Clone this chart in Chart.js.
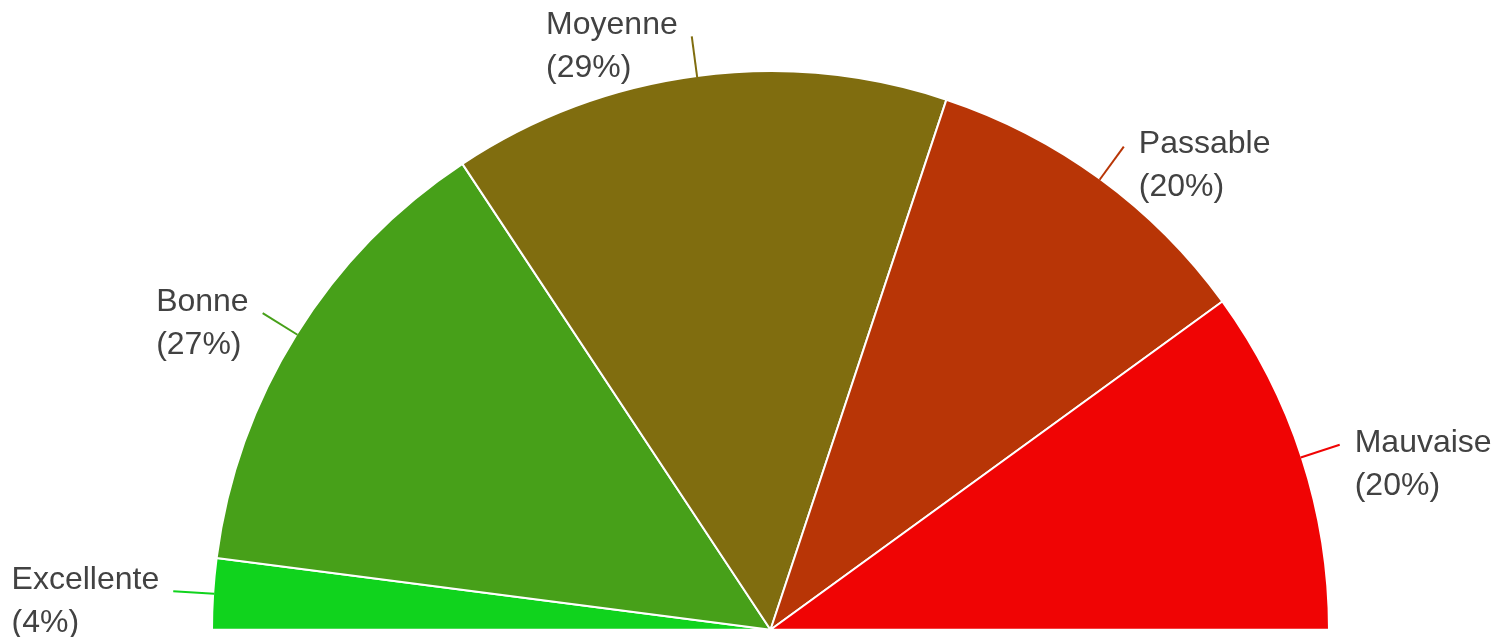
<!DOCTYPE html>
<html>
<head>
<meta charset="utf-8">
<script src="https://cdn.jsdelivr.net/npm/chart.js@4/dist/chart.umd.min.js"></script>
<style>
  html, body { margin: 0; padding: 0; background: #fff; }
  #wrap { width: 1506px; height: 637px; position: relative; }
</style>
</head>
<body>
<div id="wrap"><canvas id="chart"></canvas></div>
<script>
// données du graphique (demi-camembert)
const categories = ['Excellente', 'Bonne', 'Moyenne', 'Passable', 'Mauvaise'];
const values = [4.1, 27.3, 28.8, 19.8, 20.0];
const colors = ['#10d31d', '#47a019', '#806d0f', '#b83506', '#f00404'];

const total = values.reduce((a, b) => a + b, 0);

// étiquettes externes avec petit trait de rappel
const outerLabels = {
  id: 'outerLabels',
  afterDraw(chart) {
    const ctx = chart.ctx;
    const meta = chart.getDatasetMeta(0);
    ctx.save();
    ctx.font = '32px "Liberation Sans", Arial, sans-serif';
    ctx.textBaseline = 'middle';
    ctx.textAlign = 'left';
    meta.data.forEach((arc, i) => {
      const mid = (arc.startAngle + arc.endAngle) / 2;
      const cos = Math.cos(mid), sin = Math.sin(mid);
      const r = arc.outerRadius;
      const x1 = arc.x + cos * (r - 1), y1 = arc.y + sin * (r - 1);
      const x2 = arc.x + cos * (r + 40), y2 = arc.y + sin * (r + 40);
      ctx.strokeStyle = colors[i];
      ctx.lineWidth = 2;
      ctx.beginPath();
      ctx.moveTo(x1, y1);
      ctx.lineTo(x2, y2);
      ctx.stroke();

      const line1 = categories[i];
      const line2 = '(' + Math.round(values[i] / total * 100) + '%)';
      const w = Math.max(ctx.measureText(line1).width, ctx.measureText(line2).width);
      const left = cos < 0;
      const tx = left ? x2 - 14 - w : x2 + 15;
      const ty = left ? y2 - 11 : y2 - 2;
      ctx.fillStyle = '#424242';
      ctx.fillText(line1, tx, ty);
      ctx.fillText(line2, tx, ty + 43);
    });
    ctx.restore();
  }
};

new Chart(document.getElementById('chart'), {
  type: 'pie',
  data: {
    labels: categories,
    datasets: [{
      data: values,
      backgroundColor: colors,
      borderColor: '#ffffff',
      borderWidth: 2
    }]
  },
  options: {
    responsive: true,
    maintainAspectRatio: false,
    animation: false,
    rotation: -90,
    circumference: 180,
    layout: { padding: { left: 211, right: 176, top: 70, bottom: 6 } },
    plugins: {
      legend: { display: false },
      tooltip: { enabled: false }
    }
  },
  plugins: [outerLabels]
});
</script>
</body>
</html>
